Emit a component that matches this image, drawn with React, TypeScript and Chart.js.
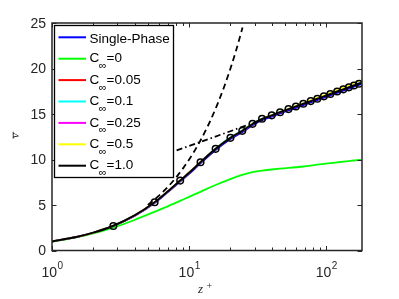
import React, { useEffect, useRef } from 'react';
import { Chart, registerables } from 'chart.js';
Chart.register(...registerables);

// z+ grid of the profiles
const zCurve = [1, 1.5, 2, 2.8, 4, 5.6, 7, 8.6, 10, 12.1, 15.6, 20, 24.4, 29, 34, 40, 46, 53, 60, 68, 77, 86, 96, 107, 120, 133, 146, 159, 173, 180];
const vSingle = [1.0, 1.47, 1.94, 2.68, 3.78, 5.2, 6.4, 7.56, 8.42, 9.56, 11.02, 12.24, 13.0, 13.76, 14.3, 14.7, 15.05, 15.38, 15.67, 15.96, 16.26, 16.52, 16.78, 17.04, 17.31, 17.56, 17.78, 17.99, 18.2, 18.28];
const vC0 = [0.95, 1.45, 1.88, 2.5, 3.35, 4.25, 4.85, 5.45, 5.9, 6.45, 7.2, 7.85, 8.3, 8.6, 8.78, 8.9, 8.99, 9.07, 9.15, 9.23, 9.33, 9.43, 9.52, 9.6, 9.68, 9.76, 9.83, 9.89, 9.95, 9.97];
const vC005 = [1.0, 1.48, 1.96, 2.72, 3.86, 5.31, 6.52, 7.7, 8.58, 9.74, 11.2, 12.4, 13.17, 13.92, 14.46, 14.86, 15.21, 15.55, 15.84, 16.13, 16.43, 16.69, 16.95, 17.21, 17.48, 17.72, 17.95, 18.16, 18.37, 18.45];
const vC01 = [1.0, 1.48, 1.96, 2.72, 3.85, 5.3, 6.5, 7.68, 8.56, 9.72, 11.22, 12.45, 13.22, 13.96, 14.5, 14.9, 15.24, 15.58, 15.87, 16.16, 16.46, 16.72, 16.98, 17.24, 17.52, 17.77, 18.0, 18.22, 18.43, 18.5];
const vC025 = [1.0, 1.47, 1.95, 2.7, 3.82, 5.26, 6.46, 7.64, 8.52, 9.67, 11.13, 12.34, 13.1, 13.86, 14.42, 14.82, 15.17, 15.51, 15.8, 16.09, 16.39, 16.65, 16.92, 17.19, 17.46, 17.71, 17.94, 18.15, 18.36, 18.44];
const vC05 = [1.0, 1.48, 1.96, 2.72, 3.85, 5.3, 6.5, 7.68, 8.56, 9.71, 11.18, 12.4, 13.17, 13.93, 14.48, 14.88, 15.24, 15.59, 15.9, 16.2, 16.51, 16.79, 17.06, 17.34, 17.63, 17.9, 18.15, 18.39, 18.62, 18.7];
const vC1 = [1.0, 1.48, 1.96, 2.72, 3.85, 5.3, 6.5, 7.68, 8.55, 9.7, 11.17, 12.38, 13.15, 13.9, 14.45, 14.85, 15.2, 15.54, 15.83, 16.12, 16.42, 16.68, 16.94, 17.2, 17.47, 17.71, 17.93, 18.13, 18.33, 18.4];

// circle markers
const zDots = [2.8, 5.6, 8.6, 12.1, 15.6, 20, 24.4, 29, 34, 40, 46, 53, 60, 68, 77, 86, 96, 107, 120, 133, 146, 159, 173];
const vDots = [2.7, 5.3, 7.68, 9.7, 11.17, 12.38, 13.15, 13.92, 14.47, 14.85, 15.2, 15.54, 15.83, 16.12, 16.42, 16.68, 16.94, 17.2, 17.47, 17.71, 17.93, 18.13, 18.33];

// viscous sublayer v = z
const zVisc = [5, 6, 7, 8, 10, 12, 14, 16, 18, 20, 22, 24.5];
const vVisc = [5, 6, 7, 8, 10, 12, 14, 16, 18, 20, 22, 24.5];

// log law
const zLog = [8.1, 35];
const vLog = [11.0, 14.42];

const legendNames = ['Single-Phase', '0', '0.05', '0.1', '0.25', '0.5', '1.0'];
const legendColors = ['#0000ff', '#00ff00', '#ff0000', '#00ffff', '#ff00ff', '#ffff00', '#000000'];

const xMajor = [1, 10, 100];
const xExp = ['0', '1', '2'];
const xMinor = [2, 3, 4, 5, 6, 7, 8, 9, 20, 30, 40, 50, 60, 70, 80, 90];
const yTicks = [0, 5, 10, 15, 20, 25];

const SANS = "'Liberation Sans', Arial, Helvetica, sans-serif";
const SERIF = "'Liberation Serif', 'Times New Roman', serif";
const AX = '#262626';

const pts = (xs: number[], ys: number[]) => xs.map((x, i) => ({ x, y: ys[i] }));

const decor = {
  id: 'decor',
  afterDraw(chart: any) {
    const ctx = chart.ctx as CanvasRenderingContext2D;
    const xs = chart.scales.x;
    const ys = chart.scales.y;
    const { left, right, top, bottom } = chart.chartArea;
    ctx.save();
    // ticks
    ctx.strokeStyle = AX;
    ctx.lineWidth = 1;
    ctx.beginPath();
    for (const t of xMinor) {
      const p = Math.round(xs.getPixelForValue(t)) + 0.5;
      ctx.moveTo(p, bottom); ctx.lineTo(p, bottom - 3);
      ctx.moveTo(p, top); ctx.lineTo(p, top + 3);
    }
    for (const t of xMajor) {
      const p = Math.round(xs.getPixelForValue(t)) + 0.5;
      ctx.moveTo(p, bottom); ctx.lineTo(p, bottom - 4.5);
      ctx.moveTo(p, top); ctx.lineTo(p, top + 4.5);
    }
    for (const t of yTicks) {
      const p = Math.round(ys.getPixelForValue(t)) + 0.5;
      ctx.moveTo(left, p); ctx.lineTo(left + 4.5, p);
      ctx.moveTo(right, p); ctx.lineTo(right - 4.5, p);
    }
    ctx.stroke();
    ctx.lineWidth = 1.5;
    ctx.strokeRect(left, top, right - left, bottom - top);

    // tick labels
    ctx.fillStyle = AX;
    ctx.font = `14px ${SANS}`;
    ctx.textAlign = 'right';
    ctx.textBaseline = 'middle';
    for (const t of yTicks) {
      ctx.fillText(String(t), left - 6, ys.getPixelForValue(t) + 1);
    }
    ctx.textAlign = 'left';
    ctx.textBaseline = 'alphabetic';
    xMajor.forEach((t, i) => {
      const p = xs.getPixelForValue(t);
      ctx.font = `14px ${SANS}`;
      const wb = ctx.measureText('10').width;
      ctx.font = `10px ${SANS}`;
      const we = ctx.measureText(xExp[i]).width;
      const x0 = p - (wb + we) / 2;
      ctx.font = `14px ${SANS}`;
      ctx.fillText('10', x0, bottom + 26);
      ctx.font = `10px ${SANS}`;
      ctx.fillText(xExp[i], x0 + wb + 0.5, bottom + 18.5);
    });

    // axis titles
    ctx.font = `italic 13px ${SERIF}`;
    ctx.fillText('z', 198, bottom + 42.5);
    ctx.font = `10px ${SERIF}`;
    ctx.fillText('+', 206.5, bottom + 38);

    ctx.save();
    ctx.translate(18.5, 135.5);
    ctx.rotate(-Math.PI / 2);
    ctx.font = `italic 12px ${SERIF}`;
    ctx.textAlign = 'center';
    ctx.fillText('v', 0, 0);
    ctx.lineWidth = 0.9;
    ctx.beginPath();
    ctx.moveTo(-3.2, -5.3);
    ctx.lineTo(3.8, -5.3);
    ctx.stroke();
    ctx.restore();

    // legend
    const lx0 = left + 2.5, ly0 = top + 2.5, lx1 = left + 121.5, ly1 = top + 154.5;
    ctx.fillStyle = '#ffffff';
    ctx.fillRect(lx0, ly0, lx1 - lx0, ly1 - ly0);
    ctx.strokeStyle = '#000000';
    ctx.lineWidth = 1.3;
    ctx.strokeRect(lx0, ly0, lx1 - lx0, ly1 - ly0);
    legendNames.forEach((name, i) => {
      const y = top + 14.3 + i * 21.4;
      ctx.strokeStyle = legendColors[i];
      ctx.lineWidth = 2;
      ctx.beginPath();
      ctx.moveTo(left + 6.5, y);
      ctx.lineTo(left + 34, y);
      ctx.stroke();
      ctx.fillStyle = '#000000';
      ctx.textAlign = 'left';
      ctx.textBaseline = 'middle';
      const tx = left + 37.5;
      if (i === 0) {
        ctx.font = `13.5px ${SANS}`;
        ctx.fillText(name, tx, y + 1.5);
      } else {
        ctx.font = `13.5px ${SANS}`;
        ctx.fillText('C', tx, y);
        const wc = ctx.measureText('C').width;
        ctx.font = `11px ${SANS}`;
        ctx.fillText('\u221E', tx + wc - 0.5, y + 7.5);
        const wi = ctx.measureText('\u221E').width;
        ctx.font = `13.5px ${SANS}`;
        ctx.fillText('=' + name, tx + wc + wi - 0.5, y);
      }
    });
    ctx.restore();
  },
};

export default function App() {
  const ref = useRef<HTMLCanvasElement | null>(null);
  useEffect(() => {
    if (!ref.current) return;
    const line = (data: number[], color: string, width = 1.6) => ({
      data: pts(zCurve, data),
      borderColor: color,
      backgroundColor: color,
      borderWidth: width,
      showLine: true,
      pointRadius: 0,
      cubicInterpolationMode: 'monotone',
    });
    const chart = new Chart(ref.current, {
      type: 'scatter',
      data: {
        datasets: [
          {
            data: pts(zDots, vDots),
            showLine: false,
            pointRadius: 3.3,
            pointBorderWidth: 1.5,
            pointBorderColor: '#000000',
            pointBackgroundColor: 'rgba(0,0,0,0)',
          },
          {
            data: pts(zVisc, vVisc),
            borderColor: '#000000',
            borderWidth: 1.8,
            borderDash: [6, 4],
            showLine: true,
            pointRadius: 0,
            cubicInterpolationMode: 'monotone',
          },
          {
            data: pts(zLog, vLog),
            borderColor: '#000000',
            borderWidth: 1.8,
            borderDash: [6, 3, 1.5, 3],
            showLine: true,
            pointRadius: 0,
          },
          line(vC1, '#000000', 2),
          line(vC05, '#ffff00'),
          line(vC025, '#ff00ff'),
          line(vC01, '#00ffff'),
          line(vC005, '#ff0000'),
          line(vSingle, '#0000ff'),
          line(vC0, '#00ff00', 1.8),
        ] as any,
      },
      options: {
        animation: false,
        responsive: false,
        layout: { padding: { left: 52, right: 37, top: 23, bottom: 48.5 } },
        plugins: { legend: { display: false }, tooltip: { enabled: false } },
        scales: {
          x: { type: 'logarithmic', min: 1, max: 182, display: false },
          y: { type: 'linear', min: 0, max: 25, display: false },
        },
      },
      plugins: [decor],
    });
    return () => chart.destroy();
  }, []);
  return (
    <div style={{ position: 'fixed', left: 0, top: 0, width: 399, height: 299, background: '#fff' }}>
      <canvas ref={ref} width={399} height={299} style={{ display: 'block', width: 399, height: 299 }} />
    </div>
  );
}
